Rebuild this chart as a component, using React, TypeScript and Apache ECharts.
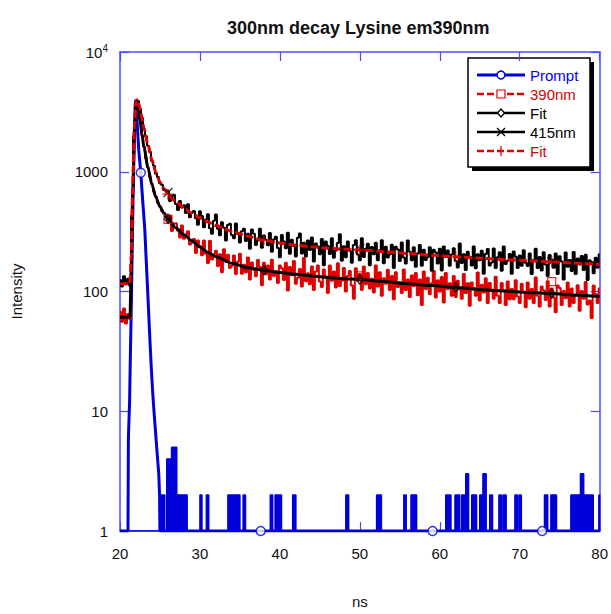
import React, { useEffect, useRef } from 'react';
import * as echarts from 'echarts';

// ---------- data ----------
const xTicks = [20, 30, 40, 50, 60, 70, 80];
const yTickLabels: Record<number, string> = { 1: '1', 10: '10', 100: '100', 1000: '1000', 10000: '{b|10}{s|4}' };

// channel grid of the measured decays (ns)
const chanStart = 20;
const chanStep = 0.25;

// 415nm emission decay (black, noisy)
const data415 = [
  125, 110, 134, 116, 128, 112,
  430, 1980, 3760, 3900, 3360, 2830, 2270, 1980, 1650, 1470, 1230, 1120, 960, 905, 800, 780, 705, 700,
  689, 569, 620, 644, 538, 479, 570, 504, 525, 453, 536, 416, 455, 471, 409, 361,
  469, 428, 344, 400, 441, 338, 303, 390, 440, 334, 295, 378, 341, 267, 359, 368, 297, 279, 370, 302, 256, 319, 335, 264, 304, 228, 329, 303, 244, 266, 334, 232, 294, 271, 243, 308, 215, 272, 286, 231, 193,
  297, 261, 230, 309, 207, 271, 240, 196, 281, 305, 208, 255, 196, 266, 222, 283, 178, 252, 238, 205, 274, 166, 262, 240, 206, 279, 191, 220, 254, 300, 181, 239, 193, 262, 219, 174, 245, 268, 204, 182,
  278, 194, 228, 250, 166, 235, 205, 255, 182, 221, 268, 172, 236, 192, 205, 246, 157, 236, 224, 180, 256, 192, 171, 266, 215, 182, 234, 161, 208, 244, 164, 223, 183, 194, 234, 149, 223, 212, 171, 227,
  150, 238, 194, 220, 164, 204, 230, 180, 159, 252, 173, 205, 151, 215, 195, 165, 238, 156, 205, 182, 219, 141, 206, 226, 165, 175, 229, 157, 193, 213, 149, 237, 170, 181, 206, 141, 216, 195, 157, 200,
  164, 221, 174, 163, 208, 140, 183, 227, 157, 194, 150, 213, 168, 135, 202, 184, 158, 208, 140, 197, 178, 126, 212, 161, 183, 148, 214, 140, 189, 168, 198, 151, 203, 125, 182, 176, 142, 191, 158, 205,
];

// 390nm emission decay (red, noisy)
const data390 = [
  68, 56, 72, 54, 65, 59,
  340, 1850, 3650, 3600, 2720, 2030, 1620, 1290, 1090, 905, 790, 680, 620, 548, 515, 470, 455, 420,
  384, 431, 320, 370, 371, 321, 282, 356, 276, 299, 319, 247, 255, 274, 210, 266,
  240, 201, 266, 207, 173, 265, 185, 205, 219, 163, 205, 145, 225, 177, 203, 157, 164, 200, 140, 177, 207, 141, 167, 145, 192, 126, 175, 151, 134, 183, 160, 113, 174, 139, 165, 126, 184, 135, 148, 118, 165,
  156, 125, 174, 102, 160, 137, 180, 116, 130, 154, 110, 190, 122, 142, 115, 162, 103, 147, 165, 121, 109, 153, 134, 97, 165, 123, 147, 108, 172, 111, 123, 157, 100, 135, 148, 112, 87, 156, 123, 140,
  103, 162, 115, 143, 106, 128, 98, 165, 110, 145, 92, 129, 116, 152, 103, 135, 86, 145, 109, 120, 97, 153, 103, 126, 90, 136, 111, 143, 93, 126, 77, 147, 105, 130, 95, 117, 148, 89, 124, 100,
  132, 81, 143, 105, 117, 92, 135, 90, 123, 104, 87, 140, 97, 117, 76, 119, 107, 92, 144, 84, 114, 98, 129, 80, 118, 101, 87, 133, 92, 80, 118, 102, 77, 121, 86, 105, 86, 124, 91, 80,
  116, 99, 74, 119, 87, 105, 80, 131, 92, 75, 110, 102, 85, 122, 75, 106, 89, 67, 112, 107, 77, 101, 88, 119, 75, 106, 80, 94, 113, 69, 101, 87, 120, 78, 84, 60, 112, 95, 80, 106,
];

// fits
const fitT = [20, 21.25, 21.4, 21.6, 21.8, 22.0, 22.1, 22.25, 22.5, 22.75, 23.0, 23.5, 24, 24.5, 25, 25.5, 26, 27, 28, 29, 30, 31, 32, 34, 36, 38, 40, 42, 44, 46, 48, 50, 53, 56, 59, 62, 65, 68, 71, 74, 77, 80];
const fit415 = [116, 116, 200, 800, 2400, 3800, 4000, 3850, 3400, 2800, 2300, 1680, 1250, 980, 820, 720, 650, 560, 500, 450, 410, 380, 355, 318, 290, 268, 254, 244, 236, 230, 226, 222, 215, 208, 201, 195, 190, 185, 181, 177, 172, 168];
const fit390 = [61, 61, 150, 700, 2200, 3700, 3900, 3600, 2700, 2050, 1600, 1080, 780, 610, 510, 450, 405, 340, 298, 265, 235, 212, 195, 172, 158, 150, 144, 139, 135, 131, 128, 126, 121, 116, 112, 108, 104, 101, 98, 96, 93, 91];

// prompt (instrument response)
const promptT = [20, 21.0, 21.05, 21.2, 21.3, 21.42, 21.55, 21.67, 21.8, 21.9, 21.97, 22.05, 22.2, 22.35, 22.6, 22.85, 23.1, 23.3, 23.5, 23.7, 23.9, 24.1, 24.3, 24.5, 24.7, 24.85, 24.95, 25.0, 80];
const promptV = [1, 1, 6, 12, 30, 80, 300, 780, 2000, 3600, 4000, 3600, 2200, 1500, 980, 560, 330, 170, 89, 45, 24, 14, 9, 6, 4, 3, 2, 1, 1];
// prompt low-count channels: [start ns, end ns, counts]
const promptBlocks: [number, number, number][] = [
  [24.95, 25.6, 2], [25.85, 26.45, 4], [26.45, 27.1, 5], [27.1, 28.4, 2],
  [30.0, 30.25, 2], [30.8, 31.1, 2], [33.5, 35.0, 2], [35.4, 35.7, 2],
  [38.8, 39.1, 2], [39.4, 40.2, 2], [41.6, 42.0, 2], [48.25, 48.6, 2],
  [52.1, 52.7, 2], [55.5, 55.8, 2], [56.4, 57.1, 2], [60.75, 61.4, 2],
  [61.9, 62.5, 2], [62.75, 63.25, 2], [63.25, 63.6, 3], [64.0, 64.6, 2],
  [65.0, 65.4, 2], [65.4, 65.8, 3], [66.25, 66.6, 2], [67.4, 67.7, 2],
  [67.9, 68.3, 2], [69.4, 69.7, 2], [69.9, 70.2, 2], [73.1, 73.5, 2],
  [73.9, 74.6, 2], [76.4, 77.5, 2], [77.6, 78.0, 3], [78.0, 79.2, 2],
  [79.9, 80.0, 2],
];

// sparse markers
const promptMarkT = [22.6, 37.6, 59.1, 72.8];
const promptMarkV = [980, 1, 1, 1];
const sq390T = [26, 50, 74];
const sq390V = [400, 135, 121];
const x415T = [26, 50, 74];
const x415V = [670, 228, 177];
const fitMarkT = [26, 38, 50, 62, 74];
const diamondV = [405, 150, 126, 108, 96];
const plusV = [650, 268, 222, 195, 177];

// ---------- styles ----------
const FONT = '"Liberation Sans", Arial, Helvetica, sans-serif';
const BLUE = '#0000d8';
const AXIS_BLUE = '#4a4aff';
const RED = '#e00000';
const BLACK = '#000000';

const pairs = (t: number[], v: number[]) => t.map((x, i) => [x, v[i]]);
const chanPairs = (v: number[]) => v.map((y, i) => [chanStart + i * chanStep, y]);

function blockData() {
  const out: number[][] = [[20, 1]];
  promptBlocks.forEach(([a, b, v]) => {
    out.push([a, 1], [a, v], [b, v], [b, 1]);
  });
  out.push([80, 1]);
  return out;
}

function blockAreas() {
  return promptBlocks.map(([a, b, v]) => [{ coord: [a, 1] }, { coord: [b, v] }]);
}

export default function App() {
  const ref = useRef<HTMLDivElement>(null);

  useEffect(() => {
    if (!ref.current) return;
    const chart = echarts.init(ref.current, null, { renderer: 'svg' });

    const axisLine = { show: true, onZero: false, lineStyle: { color: AXIS_BLUE, width: 1.5 } };
    const axisTick = { show: true, inside: true, length: 9, lineStyle: { color: AXIS_BLUE, width: 1.2 } };

    const xPathSym = 'path://M0,0L10,10M10,0L0,10';
    const plusPathSym = 'path://M5,0L5,10M0,5L10,5';

    const rowsY = [75, 94, 113, 132, 151];
    const lx1 = 477, lx2 = 525, mx = 501, tx = 530;

    const option: any = {
      animation: false,
      backgroundColor: '#ffffff',
      title: {
        text: '300nm decay Lysine em390nm',
        left: 222,
        top: 14,
        textStyle: { fontFamily: FONT, fontSize: 18, fontWeight: 'bold', color: '#111' },
      },
      grid: { left: 120, top: 52, width: 480, height: 480, containLabel: false },
      xAxis: [
        {
          type: 'value', min: 20, max: 80, interval: 10, position: 'bottom',
          axisLine, axisTick,
          axisLabel: { color: '#111', fontSize: 15, margin: 15, fontFamily: FONT,
            formatter: (v: number) => (xTicks.includes(v) ? String(v) : '') },
          splitLine: { show: false },
          name: 'ns', nameLocation: 'middle', nameGap: 63,
          nameTextStyle: { color: '#111', fontSize: 15, fontFamily: FONT },
        },
        {
          type: 'value', min: 20, max: 80, interval: 10, position: 'top',
          axisLine, axisTick, axisLabel: { show: false }, splitLine: { show: false },
        },
      ],
      yAxis: [
        {
          type: 'log', logBase: 10, min: 1, max: 10000, position: 'left',
          axisLine, axisTick,
          axisLabel: {
            color: '#111', fontSize: 15, margin: 12, fontFamily: FONT,
            formatter: (v: number) => yTickLabels[Math.round(v)] ?? '',
            rich: {
              b: { fontSize: 15, fontFamily: FONT, color: '#111', lineHeight: 18 },
              s: { fontSize: 10, fontFamily: FONT, color: '#111', lineHeight: 10, verticalAlign: 'top' },
            },
          },
          splitLine: { show: false },
          minorTick: { show: false },
          name: 'Intensity', nameLocation: 'middle', nameRotate: 90, nameGap: 96,
          nameTextStyle: { color: '#111', fontSize: 15, fontFamily: FONT },
        },
        {
          type: 'log', logBase: 10, min: 1, max: 10000, position: 'right',
          axisLine, axisTick, axisLabel: { show: false }, splitLine: { show: false },
        },
      ],
      series: [
        {
          name: 'PromptCounts', type: 'line', data: blockData(), symbol: 'none',
          lineStyle: { color: BLUE, width: 1.5 },
          areaStyle: { color: BLUE, opacity: 1, origin: 'start' },
          markArea: { silent: true, itemStyle: { color: BLUE, opacity: 1, borderWidth: 0 }, label: { show: false }, data: blockAreas() },
          z: 2, silent: true,
        },
        {
          name: 'Prompt', type: 'line', data: pairs(promptT, promptV), symbol: 'none',
          lineStyle: { color: BLUE, width: 3 }, z: 2, silent: true,
        },
        {
          name: '390nm', type: 'line', data: chanPairs(data390), symbol: 'none', step: 'middle',
          lineStyle: { color: RED, width: 2 }, z: 3, silent: true,
        },
        {
          name: 'Fit390', type: 'line', data: pairs(fitT, fit390), symbol: 'none',
          smooth: 0.25, smoothMonotone: 'x',
          lineStyle: { color: BLACK, width: 3 }, z: 4, silent: true,
        },
        {
          name: '415nm', type: 'line', data: chanPairs(data415), symbol: 'none', step: 'middle',
          lineStyle: { color: BLACK, width: 2 }, z: 5, silent: true,
        },
        {
          name: 'Fit415', type: 'line', data: pairs(fitT, fit415), symbol: 'none',
          smooth: 0.25, smoothMonotone: 'x',
          lineStyle: { color: RED, width: 3, type: [8, 3] }, z: 6, silent: true,
        },
        {
          type: 'scatter', data: pairs(promptMarkT, promptMarkV), symbol: 'circle', symbolSize: 9,
          itemStyle: { color: '#ffffff', borderColor: BLUE, borderWidth: 1.5 }, z: 7, silent: true, clip: false,
        },
        {
          type: 'scatter', data: pairs(sq390T, sq390V), symbol: 'rect', symbolSize: 8,
          itemStyle: { color: 'transparent', borderColor: RED, borderWidth: 1.2 }, z: 7, silent: true,
        },
        {
          type: 'scatter', data: pairs(fitMarkT, diamondV), symbol: 'diamond', symbolSize: [7, 9],
          itemStyle: { color: 'transparent', borderColor: BLACK, borderWidth: 1.5 }, z: 7, silent: true,
        },
        {
          type: 'scatter', data: pairs(x415T, x415V), symbol: xPathSym, symbolSize: 9,
          itemStyle: { color: 'none', borderColor: BLACK, borderWidth: 1.3 }, z: 7, silent: true,
        },
        {
          type: 'scatter', data: pairs(fitMarkT, plusV), symbol: plusPathSym, symbolSize: 11,
          itemStyle: { color: 'none', borderColor: RED, borderWidth: 1.3 }, z: 8, silent: true,
        },
      ],
      graphic: [
        {
          type: 'group', z: 100, silent: true,
          children: [
            { type: 'rect', shape: { x: 472, y: 62, width: 122, height: 109 }, style: { fill: '#000' } },
            { type: 'rect', shape: { x: 468, y: 58, width: 122, height: 109 }, style: { fill: '#fff', stroke: '#000', lineWidth: 1.5 } },
            // Prompt
            { type: 'line', shape: { x1: lx1, y1: rowsY[0], x2: lx2, y2: rowsY[0] }, style: { stroke: BLUE, lineWidth: 3 } },
            { type: 'circle', shape: { cx: mx, cy: rowsY[0], r: 4 }, style: { fill: '#fff', stroke: BLUE, lineWidth: 1.5 } },
            { type: 'text', x: tx, y: rowsY[0], style: { text: 'Prompt', fill: '#0000ff', font: `15px ${FONT}`, verticalAlign: 'middle' } },
            // 390nm
            { type: 'line', shape: { x1: lx1, y1: rowsY[1], x2: lx2, y2: rowsY[1] }, style: { stroke: RED, lineWidth: 2.5, lineDash: [7, 3] } },
            { type: 'rect', shape: { x: mx - 4, y: rowsY[1] - 4, width: 8, height: 8 }, style: { fill: '#fff', stroke: RED, lineWidth: 1.2 } },
            { type: 'text', x: tx, y: rowsY[1], style: { text: '390nm', fill: RED, font: `15px ${FONT}`, verticalAlign: 'middle' } },
            // Fit (black)
            { type: 'line', shape: { x1: lx1, y1: rowsY[2], x2: lx2, y2: rowsY[2] }, style: { stroke: BLACK, lineWidth: 2.5 } },
            { type: 'polygon', shape: { points: [[mx, rowsY[2] - 4], [mx + 3.5, rowsY[2]], [mx, rowsY[2] + 4], [mx - 3.5, rowsY[2]]] }, style: { fill: '#fff', stroke: BLACK, lineWidth: 1.3 } },
            { type: 'text', x: tx, y: rowsY[2], style: { text: 'Fit', fill: BLACK, font: `15px ${FONT}`, verticalAlign: 'middle' } },
            // 415nm
            { type: 'line', shape: { x1: lx1, y1: rowsY[3], x2: lx2, y2: rowsY[3] }, style: { stroke: BLACK, lineWidth: 2.5 } },
            { type: 'line', shape: { x1: mx - 4, y1: rowsY[3] - 4, x2: mx + 4, y2: rowsY[3] + 4 }, style: { stroke: BLACK, lineWidth: 1.3 } },
            { type: 'line', shape: { x1: mx - 4, y1: rowsY[3] + 4, x2: mx + 4, y2: rowsY[3] - 4 }, style: { stroke: BLACK, lineWidth: 1.3 } },
            { type: 'text', x: tx, y: rowsY[3], style: { text: '415nm', fill: BLACK, font: `15px ${FONT}`, verticalAlign: 'middle' } },
            // Fit (red)
            { type: 'line', shape: { x1: lx1, y1: rowsY[4], x2: lx2, y2: rowsY[4] }, style: { stroke: RED, lineWidth: 2.5, lineDash: [7, 3] } },
            { type: 'line', shape: { x1: mx, y1: rowsY[4] - 5, x2: mx, y2: rowsY[4] + 5 }, style: { stroke: RED, lineWidth: 1.3 } },
            { type: 'text', x: tx, y: rowsY[4], style: { text: 'Fit', fill: RED, font: `15px ${FONT}`, verticalAlign: 'middle' } },
          ],
        },
      ],
    };

    chart.setOption(option);
    return () => chart.dispose();
  }, []);

  return <div ref={ref} style={{ position: 'fixed', left: 0, top: 0, width: 611, height: 614, background: '#fff' }} />;
}
